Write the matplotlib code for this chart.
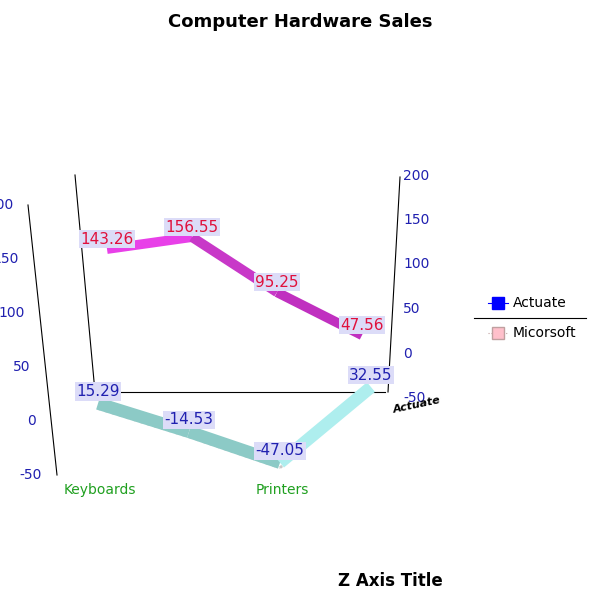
import matplotlib.pyplot as plt
import numpy as np

categories = ["Keyboards", "Monitors", "Printers", "Scanners"]
shown_cats = {0: "Keyboards", 2: "Printers"}
actuate = [143.26, 156.55, 95.25, 47.56]
micorsoft = [15.29, -14.53, -47.05, 32.55]
left_ticks = [-50, 0, 50, 100, 150, 200]
right_ticks = [-50, 0, 50, 100, 150, 200]

fig = plt.figure(figsize=(6, 6), dpi=100)
ax = fig.add_axes([0, 0, 1, 1])
ax.set_xlim(0, 600)
ax.set_ylim(600, 0)
ax.axis("off")

def front(i, v):
    return 98 + i * 91, 418 - v * 0.95

def back(i, v):
    return 107 + i * 85, 378 - v * 0.9

# axes frame
ax.plot([28, 57], [205, 475], color="black", lw=0.8)
ax.plot([75, 95], [175, 392], color="black", lw=0.8)
ax.plot([95, 385], [392, 392], color="black", lw=0.8)
ax.plot([400, 388], [177, 392], color="black", lw=0.8)

for t in left_ticks:
    y = 475 - (t + 50) * 1.08
    ax.text(42 - (t + 50) * 0.116, y, str(t), color="#2020b0", fontsize=10,
            ha="right", va="center")
for t in right_ticks:
    y = 400 - (t + 50) * 0.89
    ax.text(403, y - 2, str(t), color="#2020b0", fontsize=10, ha="left", va="center")
ax.text(392, 405, "Actuate", fontsize=8, fontweight="bold", fontstyle="italic",
        rotation=12, ha="left", va="center")

# series ribbons
bx, by = zip(*[back(i, v) for i, v in enumerate(actuate)])
bcols = ["#e840e8", "#c838c8", "#c030c0"]
for k in range(3):
    ax.plot(bx[k:k + 2], by[k:k + 2], color=bcols[k], lw=7, solid_capstyle="butt")
fx, fy = zip(*[front(i, v) for i, v in enumerate(micorsoft)])
fcols = ["#8ccac6", "#8ccac6", "#aeeeee"]
for k in range(3):
    ax.plot(np.array(fx[k:k + 2]), np.array(fy[k:k + 2]) + 5, color="#c8c8c8", lw=2,
            ls=":", solid_capstyle="butt")
    ax.plot(fx[k:k + 2], fy[k:k + 2], color=fcols[k], lw=9, solid_capstyle="butt")

box = dict(boxstyle="square,pad=0.1", fc="#dcdcf8", ec="none")
for x, y, v in zip(bx, by, actuate):
    ax.text(x, y - 10, f"{v:.2f}", color="#e0103c", fontsize=11, ha="center",
            va="center", bbox=box)
for x, y, v in zip(fx, fy, micorsoft):
    ax.text(x, y - 12, f"{v:.2f}", color="#2020b0", fontsize=11, ha="center",
            va="center", bbox=box)

for i, name in shown_cats.items():
    ax.text(front(i, 0)[0] + 2, 490, name, color="#20a020", fontsize=10,
            ha="center", va="center")

# legend
ax.plot([488, 508], [303, 303], color="blue", lw=0.8)
ax.plot(498, 303, marker="s", color="blue", ms=9)
ax.text(513, 303, "Actuate", fontsize=10, va="center")
ax.plot([474, 586], [318, 318], color="black", lw=0.8)
ax.plot([488, 508], [333, 333], color="#c0a0a0", lw=0.8, ls=":")
ax.plot(498, 333, marker="s", color="pink", mec="#c0a0a0", ms=9)
ax.text(513, 333, "Micorsoft", fontsize=10, va="center")

ax.text(300, 22, "Computer Hardware Sales", fontsize=13, fontweight="bold",
        ha="center", va="center")
ax.text(390, 581, "Z Axis Title", fontsize=12, fontweight="bold", ha="center",
        va="center")

fig.savefig("out.png", dpi=100)
